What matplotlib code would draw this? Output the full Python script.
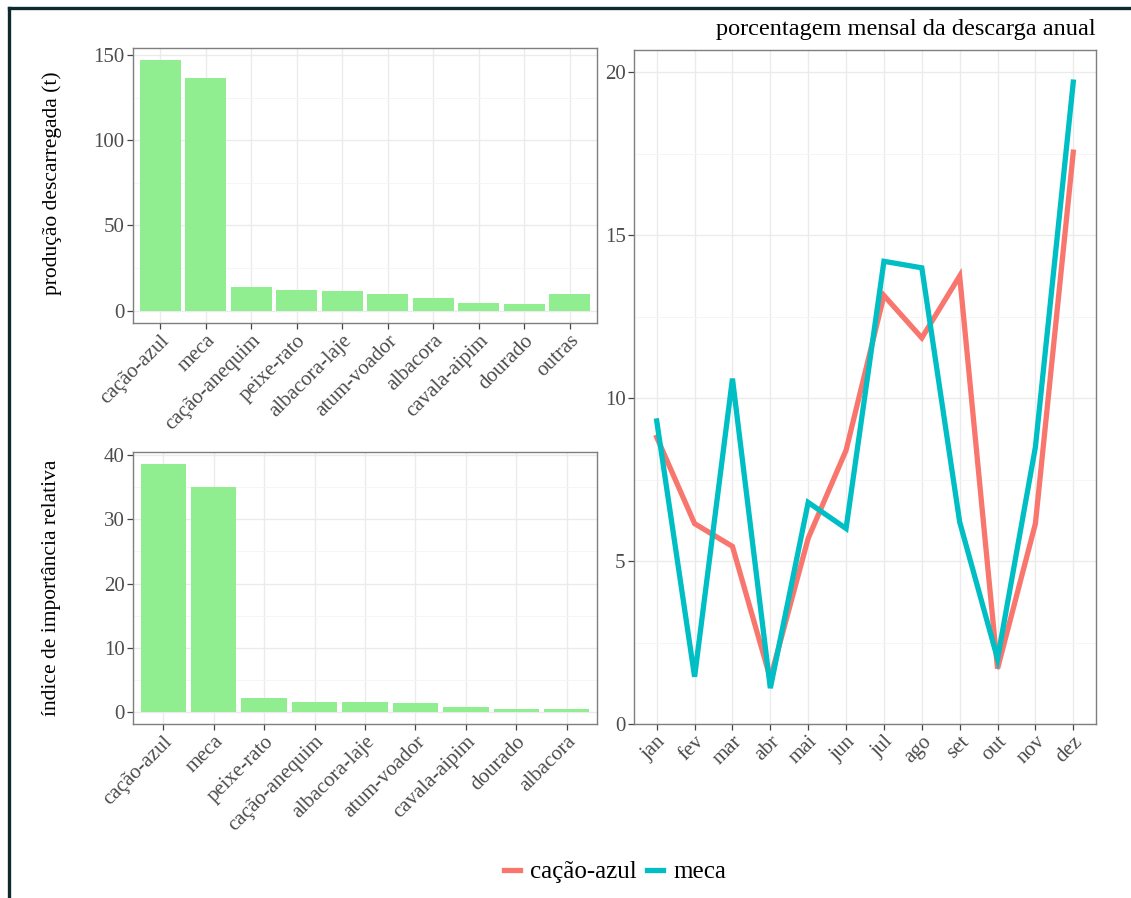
import matplotlib
matplotlib.use("Agg")
import matplotlib.pyplot as plt
from matplotlib.lines import Line2D
from matplotlib.ticker import MultipleLocator

plt.rcParams['font.family'] = ['Liberation Serif', 'DejaVu Serif']

# produção descarregada (t)
prod_especies = ["cação-azul", "meca", "cação-anequim", "peixe-rato", "albacora-laje",
                 "atum-voador", "albacora", "cavala-aipim", "dourado", "outras"]
prod_valores = [147.0, 136.5, 13.8, 12.2, 11.3, 9.7, 7.3, 4.3, 3.6, 9.5]

# índice de importância relativa
iir_especies = ["cação-azul", "meca", "peixe-rato", "cação-anequim", "albacora-laje",
                "atum-voador", "cavala-aipim", "dourado", "albacora"]
iir_valores = [38.6, 35.0, 2.2, 1.45, 1.45, 1.35, 0.73, 0.47, 0.45]

# porcentagem mensal da descarga anual
meses = ["jan", "fev", "mar", "abr", "mai", "jun", "jul", "ago", "set", "out", "nov", "dez"]
cacao_azul = [8.8, 6.15, 5.45, 1.4, 5.7, 8.4, 13.15, 11.85, 13.75, 1.7, 6.15, 17.55]
meca = [9.3, 1.45, 10.6, 1.1, 6.8, 6.0, 14.2, 14.0, 6.2, 2.0, 8.5, 19.7]

W, H = 1131, 898
fig = plt.figure(figsize=(W / 100, H / 100), dpi=100)
fig.patch.set_facecolor("white")


def px_axes(l, t, r, b):
    return fig.add_axes([l / W, 1 - b / H, (r - l) / W, (b - t) / H])


def style(ax, major, minor):
    ax.set_facecolor("white")
    ax.yaxis.set_major_locator(MultipleLocator(major))
    ax.yaxis.set_minor_locator(MultipleLocator(minor))
    ax.grid(True, which="major", color="#EBEBEB", lw=1.0, zorder=0)
    ax.grid(True, which="minor", axis="y", color="#F4F4F4", lw=0.6, zorder=0)
    ax.set_axisbelow(True)
    for s in ax.spines.values():
        s.set_color("#7f7f7f")
        s.set_linewidth(1.0)
    ax.tick_params(which="major", length=4, width=0.9, color="#444444",
                   labelsize=15, labelcolor="#4D4D4D", pad=2)
    ax.tick_params(which="minor", length=0)
    ax.tick_params(axis="x", which="minor", length=0)


def rot_labels(ax, labels):
    ax.set_xticklabels(labels, rotation=45, ha="right", va="top",
                       rotation_mode="anchor")


# painel superior esquerdo
ax1 = px_axes(133, 48, 597, 323)
x1 = range(len(prod_especies))
ax1.bar(x1, prod_valores, width=0.9, color="#90EE90", zorder=2)
ax1.set_xlim(-0.6, len(prod_especies) - 0.4)
ax1.set_ylim(-0.05 * max(prod_valores), 1.05 * max(prod_valores))
style(ax1, 50, 25)
ax1.set_xticks(list(x1))
rot_labels(ax1, prod_especies)

# painel inferior esquerdo
ax2 = px_axes(133, 452, 597, 724)
x2 = range(len(iir_especies))
ax2.bar(x2, iir_valores, width=0.9, color="#90EE90", zorder=2)
ax2.set_xlim(-0.6, len(iir_especies) - 0.4)
ax2.set_ylim(-0.05 * max(iir_valores), 1.05 * max(iir_valores))
style(ax2, 10, 5)
ax2.set_xticks(list(x2))
rot_labels(ax2, iir_especies)

# painel direito
ax3 = px_axes(634, 50, 1096, 724)
x3 = range(len(meses))
l1, = ax3.plot(x3, cacao_azul, color="#F8766D", lw=3.8, zorder=3,
               solid_joinstyle="miter", label="cação-azul")
l2, = ax3.plot(x3, meca, color="#00BFC4", lw=3.8, zorder=3,
               solid_joinstyle="miter", label="meca")
ax3.set_xlim(-0.6, len(meses) - 0.4)
ax3.set_ylim(0, 1.05 * max(meca))
style(ax3, 5, 2.5)
ax3.set_xticks(list(x3))
rot_labels(ax3, meses)

fig.text(52 / W, 1 - 183 / H, "produção descarregada (t)", rotation=90,
         ha="center", va="center", fontsize=15.5)
fig.text(52 / W, 1 - 588 / H, "índice de importância relativa", rotation=90,
         ha="center", va="center", fontsize=15.5)
fig.text(1096 / W, 1 - 30 / H, "porcentagem mensal da descarga anual",
         ha="right", va="center", fontsize=17.5)

fig.legend(handles=[l1, l2], loc="center", bbox_to_anchor=(615 / W, 1 - 872 / H),
           ncol=2, frameon=False, fontsize=18, handlelength=0.65,
           handletextpad=0.4, columnspacing=0.4)

# moldura (só topo e esquerda)
fig.add_artist(Line2D([8.5 / W, 1], [1 - 8 / H, 1 - 8 / H], transform=fig.transFigure,
                      color="#0f2a2c", lw=2.4))
fig.add_artist(Line2D([8.5 / W, 8.5 / W], [0, 1 - 8 / H], transform=fig.transFigure,
                      color="#0f2a2c", lw=2.4))

fig.savefig("out.png", dpi=100)
